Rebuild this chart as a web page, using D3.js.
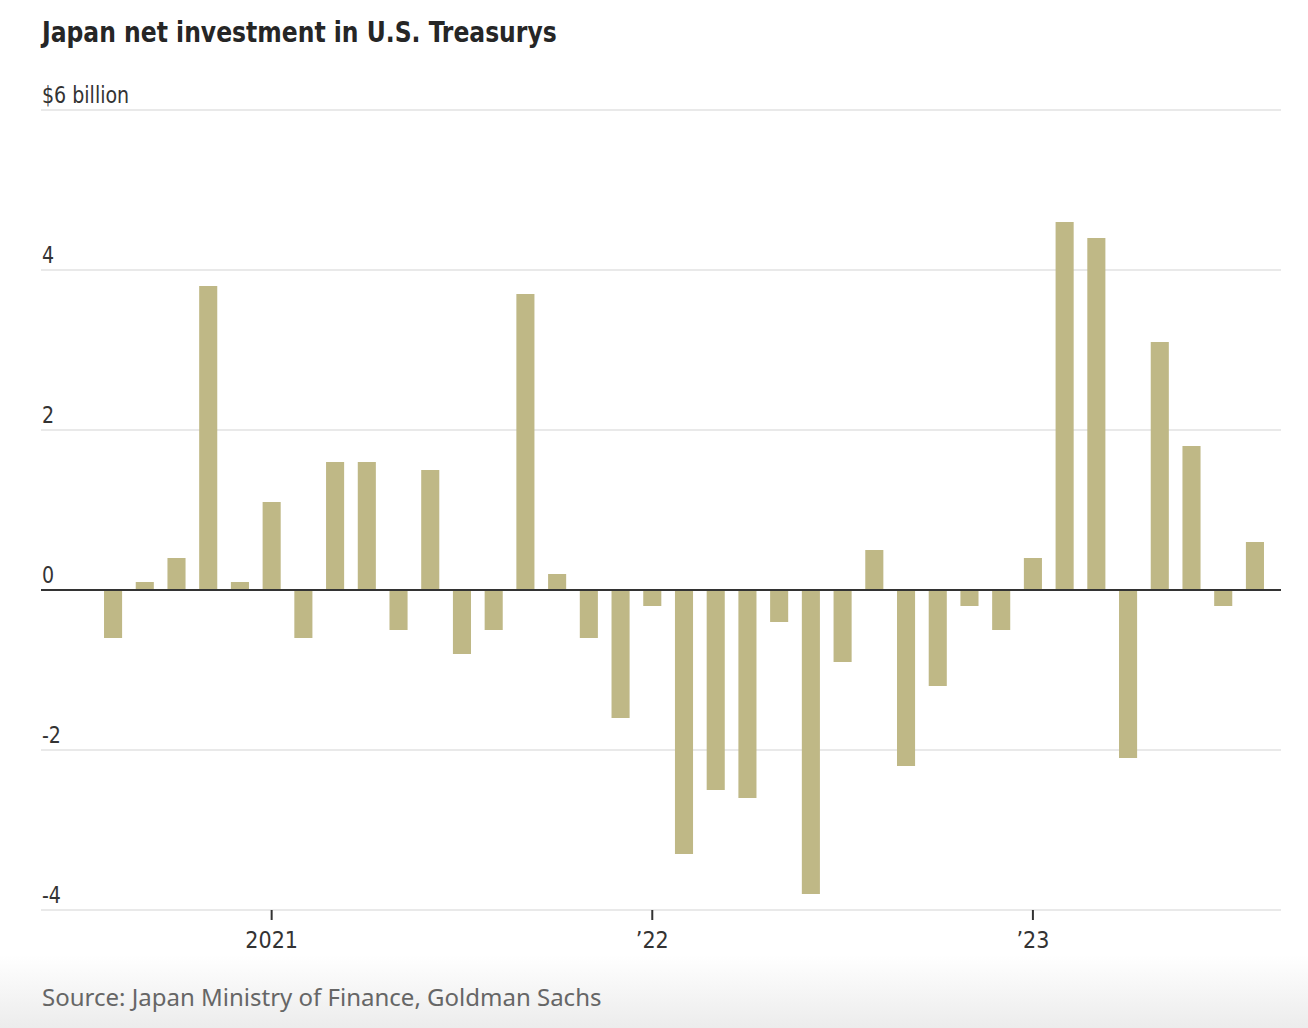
<!DOCTYPE html>
<html>
<head>
<meta charset="utf-8">
<script src="https://cdn.jsdelivr.net/npm/d3@7"></script>
<style>
  html, body { margin: 0; padding: 0; background: #fff; }
  svg { display: block; }
</style>
</head>
<body>
<svg id="chart" width="1308" height="1028"></svg>
<script>
const months = ["2020-08","2020-09","2020-10","2020-11","2020-12",
  "2021-01","2021-02","2021-03","2021-04","2021-05","2021-06","2021-07","2021-08","2021-09","2021-10","2021-11","2021-12",
  "2022-01","2022-02","2022-03","2022-04","2022-05","2022-06","2022-07","2022-08","2022-09","2022-10","2022-11","2022-12",
  "2023-01","2023-02","2023-03","2023-04","2023-05","2023-06","2023-07","2023-08"];
const values = [-0.6, 0.1, 0.4, 3.8, 0.1,
  1.1, -0.6, 1.6, 1.6, -0.5, 1.5, -0.8, -0.5, 3.7, 0.2, -0.6, -1.6,
  -0.2, -3.3, -2.5, -2.6, -0.4, -3.8, -0.9, 0.5, -2.2, -1.2, -0.2, -0.5,
  0.4, 4.6, 4.4, -2.1, 3.1, 1.8, -0.2, 0.6];
const xTickMonths = ["2021-01", "2022-01", "2023-01"];
const xTickLabels = ["2021", "\u201922", "\u201923"];
const yTicks = [-4, -2, 0, 2, 4, 6];
const yTickLabels = ["-4", "-2", "0", "2", "4", "$6 billion"];
const title = "Japan net investment in U.S. Treasurys";
const source = "Source: Japan Ministry of Finance, Goldman Sachs";

const svg = d3.select("#chart");
const narrow = "'Liberation Sans Narrow', 'DejaVu Sans Condensed', 'Arial Narrow', sans-serif";

// bottom gradient
const defs = svg.append("defs");
const grad = defs.append("linearGradient").attr("id", "bg").attr("x1", 0).attr("y1", 0).attr("x2", 0).attr("y2", 1);
grad.append("stop").attr("offset", "0%").attr("stop-color", "#ffffff");
grad.append("stop").attr("offset", "100%").attr("stop-color", "#ececec");
svg.append("rect").attr("x", 0).attr("y", 955).attr("width", 1308).attr("height", 73).attr("fill", "url(#bg)");

const left = 41, right = 1281;
const y = d3.scaleLinear().domain([-4, 6]).range([910, 110]);
const x = d3.scaleBand().domain(months).range([97.2, 1270.8]).paddingInner(0.43).paddingOuter(0.215);

// title
svg.append("text").attr("transform", "translate(42,42) scale(0.9,1)")
  .attr("font-family", narrow).attr("font-weight", "bold").attr("font-size", 29)
  .attr("fill", "#262626").text(title);

// gridlines
const grid = svg.append("g");
grid.selectAll("line").data(yTicks.filter(d => d !== 0)).join("line")
  .attr("x1", left).attr("x2", right)
  .attr("y1", d => y(d)).attr("y2", d => y(d))
  .attr("stroke", "#e2e2e2").attr("stroke-width", 1.5);
grid.selectAll("text").data(yTicks).join("text")
  .attr("transform", d => `translate(42,${y(d) - 7}) scale(0.92,1)`)
  .attr("font-family", narrow).attr("font-size", 23)
  .attr("fill", "#333").text((d, i) => yTickLabels[i]);

// bars
svg.append("g").selectAll("rect").data(values).join("rect")
  .attr("x", (d, i) => x(months[i]))
  .attr("width", x.bandwidth())
  .attr("y", d => y(Math.max(0, d)))
  .attr("height", d => Math.abs(y(d) - y(0)))
  .attr("fill", "#bfb886");

// zero line
svg.append("line").attr("x1", left).attr("x2", right)
  .attr("y1", y(0)).attr("y2", y(0))
  .attr("stroke", "#333").attr("stroke-width", 2);

// x axis
const xAxis = d3.axisBottom(x).tickValues(xTickMonths)
  .tickFormat(d => xTickLabels[xTickMonths.indexOf(d)])
  .tickSize(10).tickPadding(12);
const gx = svg.append("g").attr("transform", `translate(0,${y(-4)})`).call(xAxis);
gx.select(".domain").remove();
gx.selectAll(".tick line").attr("stroke", "#333").attr("stroke-width", 2);
gx.selectAll(".tick text").attr("font-family", narrow).attr("font-size", 23).attr("fill", "#333");

// source
svg.append("text").attr("x", 42).attr("y", 1006)
  .attr("font-family", "'Noto Sans', 'Open Sans', sans-serif").attr("font-size", 24)
  .attr("fill", "#666").text(source);
</script>
</body>
</html>
